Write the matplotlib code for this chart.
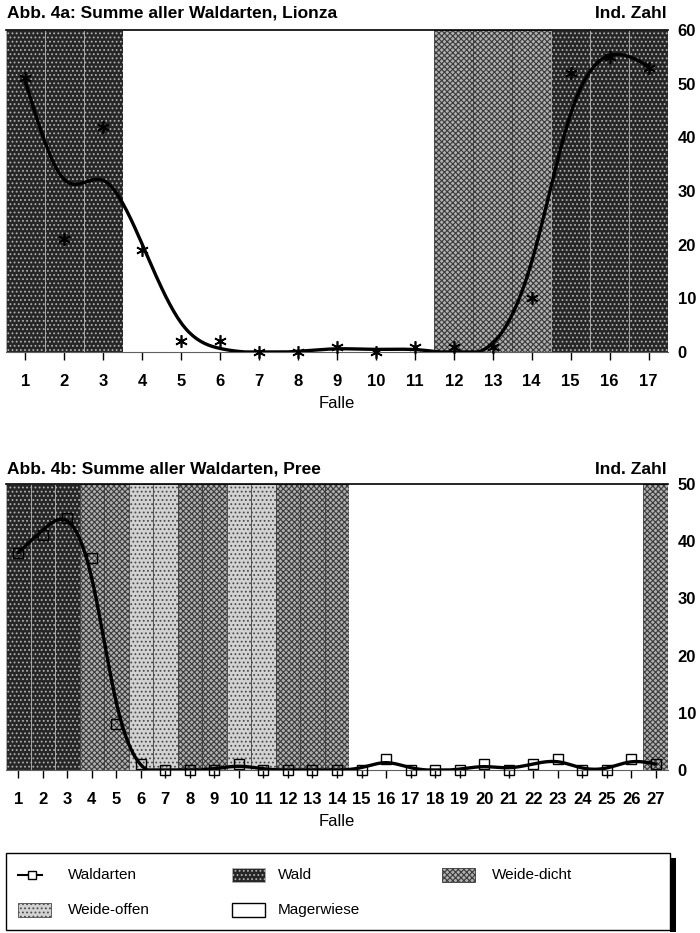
import numpy as np
import matplotlib
matplotlib.use('Agg')
import matplotlib.pyplot as plt
from matplotlib.patches import Rectangle

plt.rcParams['font.family'] = ['Liberation Sans', 'DejaVu Sans']
plt.rcParams['hatch.linewidth'] = 0.8

# Daten Abb. 4a (Lionza)
falle_a = list(range(1, 18))
werte_a = [51, 21, 42, 19, 2, 2, 0, 0, 1, 0, 1, 1, 1, 10, 52, 55, 53]
habitat_a = ['Wald'] * 3 + ['Magerwiese'] * 8 + ['Weide-dicht'] * 3 + ['Wald'] * 3

# Daten Abb. 4b (Pree)
falle_b = list(range(1, 28))
werte_b = [38, 41, 44, 37, 8, 1, 0, 0, 0, 1, 0, 0, 0, 0, 0, 2, 0, 0, 0, 1,
           0, 1, 2, 0, 0, 2, 1]
habitat_b = (['Wald'] * 3 + ['Weide-dicht'] * 2 + ['Weide-offen'] * 2 +
             ['Weide-dicht'] * 2 + ['Weide-offen'] * 2 + ['Weide-dicht'] * 3 +
             ['Magerwiese'] * 12 + ['Weide-dicht'])

# Flaechenstile der Habitate
stil = {
    'Wald':        dict(facecolor='#262626', edgecolor='#b0b0b0', hatch='....', linewidth=0.6),
    'Weide-dicht': dict(facecolor='#b0b0b0', edgecolor='#3a3a3a', hatch='xxxxxx', linewidth=0.6),
    'Weide-offen': dict(facecolor='#d2d2d2', edgecolor='#4a4a4a', hatch='....', linewidth=0.6),
    'Magerwiese':  dict(facecolor='white', edgecolor='white', hatch=None, linewidth=0),
}


def glaetten(x, y, lam, step=0.05, rand=6.0):
    # Glaettungsspline (Penalisierung der 2. Ableitung), Endpunkte staerker gewichtet
    xs = np.arange(x[0], x[-1] + step / 2, step)
    n = len(xs)
    idx = np.round((np.array(x) - x[0]) / step).astype(int)
    w = np.zeros(n)
    w[idx] = 1.0
    w[idx[0]] = w[idx[-1]] = rand
    z = np.zeros(n)
    z[idx] = y
    D = np.diff(np.eye(n), 2, axis=0) / step ** 2
    A = np.diag(w) + lam * step * D.T @ D
    return xs, np.linalg.solve(A, w * z)


def diagramm(ax, falle, werte, habitat, ymax, marker, msize, lam):
    for f, h in zip(falle, habitat):
        ax.bar(f, ymax, width=1.0, bottom=0, zorder=1, **stil[h])
    xs, ys = glaetten(falle, werte, lam)
    ax.plot(xs, np.clip(ys, 0, None), color='black', lw=2.4, zorder=3,
            solid_capstyle='round')
    if marker == 's':
        ax.plot(falle, werte, ls='none', marker='s', ms=msize, mfc='none',
                mec='black', mew=1.0, zorder=4, clip_on=False)
    else:
        ax.plot(falle, werte, ls='none', marker=marker, ms=msize,
                mec='black', mew=1.2, zorder=4, clip_on=False)
    ax.set_xlim(0.5, len(falle) + 0.5)
    ax.set_ylim(0, ymax)
    ax.set_xticks(falle)
    ax.set_xticklabels([str(f) for f in falle], fontsize=12, fontweight='bold')
    ax.set_yticks(range(0, ymax + 1, 10))
    ax.yaxis.tick_right()
    ax.tick_params(axis='y', length=0, pad=7, labelsize=12)
    for t in ax.get_yticklabels():
        t.set_fontweight('bold')
    ax.tick_params(axis='x', direction='out', length=6, width=1, pad=10)
    for s in ['left', 'right']:
        ax.spines[s].set_visible(False)
    ax.spines['top'].set_linewidth(1.2)
    ax.spines['bottom'].set_color('#606060')
    ax.set_xlabel('Falle', fontsize=12, labelpad=5)


fig = plt.figure(figsize=(7, 9.33), dpi=100)
W, H = 700.0, 933.0

ax1 = fig.add_axes([6 / W, 1 - 352 / H, 662 / W, 322 / H])
diagramm(ax1, falle_a, werte_a, habitat_a, 60, (6, 2, 0), 9, 0.12)

ax2 = fig.add_axes([6 / W, 1 - 770 / H, 662 / W, 286 / H])
diagramm(ax2, falle_b, werte_b, habitat_b, 50, 's', 7, 0.08)

fig.text(7 / W, 1 - 13 / H, 'Abb. 4a: Summe aller Waldarten, Lionza',
         fontsize=12.5, fontweight='bold', va='center', ha='left')
fig.text(667 / W, 1 - 13 / H, 'Ind. Zahl', fontsize=12.5, fontweight='bold',
         va='center', ha='right')
fig.text(7 / W, 1 - 469 / H, 'Abb. 4b: Summe aller Waldarten, Pree',
         fontsize=12.5, fontweight='bold', va='center', ha='left')
fig.text(667 / W, 1 - 469 / H, 'Ind. Zahl', fontsize=12.5, fontweight='bold',
         va='center', ha='right')

# Legende
ax3 = fig.add_axes([6 / W, 1 - 930 / H, 664 / W, 77 / H])
ax3.set_xlim(0, 664)
ax3.set_ylim(77, 0)
ax3.axis('off')
ax3.add_patch(Rectangle((664, 5), 6, 74, facecolor='black', clip_on=False, zorder=0))
ax3.add_patch(Rectangle((0, 0), 664, 77, facecolor='white', edgecolor='black',
                        lw=1.0, clip_on=False, zorder=1))
ax3.plot([12, 36], [22, 22], color='black', lw=1.5, zorder=2)
ax3.plot([26], [22], marker='s', ms=6, mfc='white', mec='black', mew=1.0, zorder=3)
eintraege = [('Wald', 226, 22), ('Weide-dicht', 436, 22),
             ('Weide-offen', 12, 57), ('Magerwiese', 226, 57)]
for name, x0, y0 in eintraege:
    st = dict(stil[name])
    if name == 'Magerwiese':
        st['edgecolor'] = 'black'
        st['linewidth'] = 1.0
    ax3.add_patch(Rectangle((x0, y0 - 7), 33, 14, zorder=2, **st))
texte = [('Waldarten', 62, 22), ('Wald', 272, 22), ('Weide-dicht', 486, 22),
         ('Weide-offen', 62, 57), ('Magerwiese', 272, 57)]
for name, x0, y0 in texte:
    ax3.text(x0, y0, name, fontsize=11, va='center', ha='left', zorder=3)

fig.savefig('out.png', dpi=100)
